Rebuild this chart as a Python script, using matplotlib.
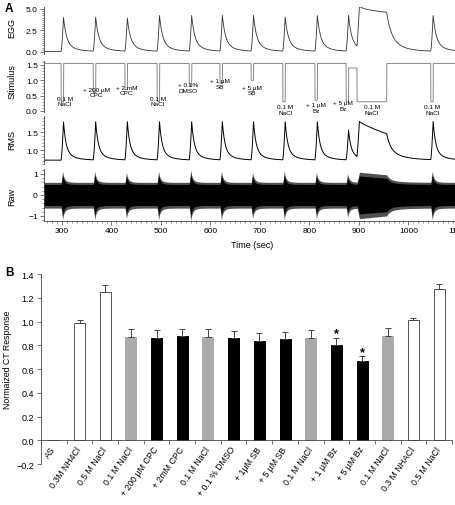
import numpy as np
import matplotlib.pyplot as plt
from matplotlib.ticker import MultipleLocator

plt.rcParams['font.family'] = ['Liberation Sans', 'DejaVu Sans']

# ---- Panel A: events (time in sec) ----
pulse_on = [298, 363, 427, 492, 557, 619, 682, 746, 811, 874, 1045]
stim_level = [0.3, 0.6, 0.7, 0.3, 0.8, 0.9, 1.0, 0.3, 0.35, 0.3, 0.3]
egg_peak = [4.0, 4.0, 3.9, 4.2, 4.2, 4.2, 4.2, 4.0, 4.2, 4.2, 4.2]
rms_peak = [1.78, 1.78, 1.78, 1.78, 1.78, 1.78, 1.78, 1.78, 1.78, 1.55, 1.78]
raw_peak = [0.95, 0.95, 0.9, 0.95, 1.0, 0.95, 0.9, 0.95, 0.9, 0.85, 0.95]

long_on, long_off = 896, 956      # long 0.1 M NaCl application
long_level = 0.3
gap_level = 1.4                   # stimulus level between +5 uM Bz and long NaCl
egg_long = [4.85, 4.6]            # EGG at start / end of long NaCl
rms_long = [1.72, 1.45]
raw_long = 0.9

stim_base = 1.55
egg_base = 0.05
rms_base = 0.72
raw_base = 0.5

stim_text = ['0.1 M\nNaCl', '+ 200 µM\nCPC', '+ 2 mM\nCPC', '0.1 M\nNaCl', '+ 0.1%\nDMSO',
             '+ 1 µM\nSB', '+ 5 µM\nSB', '0.1 M\nNaCl', '+ 1 µM\nBz', '+ 5 µM\nBz',
             '0.1 M\nNaCl', '0.1 M\nNaCl']
stim_text_t = [306, 369, 431, 494, 555, 619, 683, 751, 813, 868, 926, 1048]
stim_text_y = [0.50, 0.79, 0.85, 0.50, 0.93, 1.06, 0.85, 0.22, 0.28, 0.35, 0.22, 0.22]

# ---- Panel B: normalized chorda tympani responses ----
categories = ['AS', '0.3M NH4Cl', '0.5 M NaCl', '0.1 M NaCl', '+ 200 µM CPC', '+ 2mM CPC',
              '0.1 M NaCl', '+ 0.1 % DMSO', '+ 1µM SB', '+ 5 µM SB', '0.1 M NaCl',
              '+ 1 µM Bz', '+ 5 µM Bz', '0.1 M NaCl', '0.3 M NHACl', '0.5 M NaCl']
response = [0.005, 0.99, 1.25, 0.87, 0.86, 0.88, 0.87, 0.86, 0.84, 0.85, 0.86, 0.80, 0.67, 0.88, 1.01, 1.27]
sem = [0.0, 0.02, 0.06, 0.07, 0.065, 0.055, 0.065, 0.06, 0.06, 0.065, 0.065, 0.065, 0.04, 0.065, 0.02, 0.05]
kind = ['w', 'w', 'w', 'g', 'k', 'k', 'g', 'k', 'k', 'k', 'g', 'k', 'k', 'g', 'w', 'w']
starred = [11, 12]

fill = {'w': 'white', 'g': '#aaaaaa', 'k': 'black'}
edge = {'w': '#555555', 'g': '#aaaaaa', 'k': 'black'}


def response_shape(t, s, rise=5.0, tau1=6.0, tau2=20.0):
    r = t - s
    out = np.zeros_like(t)
    up = (r > 0) & (r < rise)
    out[up] = (r[up] / rise) ** 1.5
    dn = r >= rise
    out[dn] = 0.75 * np.exp(-(r[dn] - rise) / tau1) + 0.25 * np.exp(-(r[dn] - rise) / tau2)
    return out


def long_shape(t, on, off, start, end, rise=5.0, tau1=6.0, tau2=20.0):
    out = np.zeros_like(t)
    r = t - on
    up = (r > 0) & (r < rise)
    out[up] = start * (r[up] / rise) ** 1.2
    mid = (t >= on + rise) & (t < off)
    out[mid] = start + (end - start) * (t[mid] - on - rise) / (off - on - rise)
    dn = t >= off
    d = t[dn] - off
    out[dn] = end * (0.6 * np.exp(-d / tau1) + 0.4 * np.exp(-d / tau2))
    return out


t = np.arange(255, 1115, 0.2)

stim = np.full_like(t, stim_base)
for s, lv in zip(pulse_on, stim_level):
    stim[(t >= s) & (t < s + 5)] = lv
stim[(t >= pulse_on[9] + 5) & (t < long_on)] = gap_level
stim[(t >= long_on) & (t < long_off)] = long_level

egg = np.full_like(t, egg_base)
rms = np.full_like(t, rms_base)
raw = np.full_like(t, raw_base)
for s, e, r, w in zip(pulse_on, egg_peak, rms_peak, raw_peak):
    egg += (e - egg_base) * response_shape(t, s)
    rms += (r - rms_base) * response_shape(t, s, tau1=5.0, tau2=18.0)
    raw += (w - raw_base) * response_shape(t, s, rise=3.0, tau1=3.0, tau2=8.0)
egg += long_shape(t, long_on, long_off, egg_long[0] - egg_base, egg_long[1] - egg_base,
                  tau1=9.0, tau2=25.0)
rms += long_shape(t, long_on, long_off, rms_long[0] - rms_base, rms_long[1] - rms_base,
                  tau1=8.0, tau2=30.0)
raw += long_shape(t, long_on, long_off, raw_long - raw_base, raw_long - raw_base - 0.1,
                  tau1=6.0, tau2=25.0)

fig = plt.figure(figsize=(4.55, 5.06), dpi=100)

xl = (263.6, 1104)
axL, axW = 0.0967, 0.914
ax_egg = fig.add_axes([axL, 0.892, axW, 0.0917])
ax_stim = fig.add_axes([axL, 0.7757, axW, 0.1012])
ax_rms = fig.add_axes([axL, 0.673, axW, 0.096])
ax_raw = fig.add_axes([axL, 0.5608, axW, 0.1038])

for ax in (ax_egg, ax_stim, ax_rms, ax_raw):
    ax.set_xlim(*xl)
    ax.patch.set_alpha(0)
    for sp in ('top', 'right'):
        ax.spines[sp].set_visible(False)
    ax.spines['left'].set_linewidth(0.6)
    ax.spines['left'].set_color('#444444')
    ax.tick_params(axis='y', which='major', length=3, width=0.5, labelsize=6, pad=1.5, colors='#444444')
    ax.tick_params(axis='y', which='minor', length=1.5, width=0.4, colors='#444444')
    ax.tick_params(axis='y', labelcolor='black')
for ax in (ax_egg, ax_stim, ax_rms):
    ax.spines['bottom'].set_visible(False)
    ax.tick_params(axis='x', which='both', bottom=False, labelbottom=False)

ax_egg.plot(t, egg, color='#333333', lw=0.6)
ax_egg.set_ylim(-0.2, 5.2)
ax_egg.yaxis.set_major_locator(MultipleLocator(2.5))
ax_egg.yaxis.set_minor_locator(MultipleLocator(0.25))
ax_egg.yaxis.set_major_formatter('{x:.1f}')

ax_stim.plot(t, stim, color='#888888', lw=0.7)
ax_stim.set_ylim(-0.05, 1.62)
ax_stim.yaxis.set_major_locator(MultipleLocator(0.5))
ax_stim.yaxis.set_minor_locator(MultipleLocator(0.1))
ax_stim.yaxis.set_major_formatter('{x:.1f}')
for txt, tx, ty in zip(stim_text, stim_text_t, stim_text_y):
    ax_stim.text(tx, ty, txt, fontsize=4.6, ha='center', va='top', linespacing=1.15, clip_on=False)

ax_rms.plot(t, rms, color='black', lw=0.7)
ax_rms.set_ylim(0.6, 1.95)
ax_rms.yaxis.set_major_locator(MultipleLocator(0.5))
ax_rms.yaxis.set_minor_locator(MultipleLocator(0.1))
ax_rms.yaxis.set_major_formatter('{x:.1f}')

ax_raw.fill_between(t, -raw * 1.25, raw * 1.2, color='#505050', lw=0)
ax_raw.fill_between(t, -raw, raw, color='black', lw=0)
ax_raw.set_ylim(-1.25, 1.25)
ax_raw.yaxis.set_major_locator(MultipleLocator(1))
ax_raw.yaxis.set_minor_locator(MultipleLocator(0.2))
ax_raw.spines['bottom'].set_linewidth(0.6)
ax_raw.spines['bottom'].set_color('#444444')
ax_raw.xaxis.set_major_locator(MultipleLocator(100))
ax_raw.xaxis.set_minor_locator(MultipleLocator(10))
ax_raw.tick_params(axis='x', which='major', length=3, width=0.5, labelsize=6, pad=1.5, colors='#444444', labelcolor='black')
ax_raw.tick_params(axis='x', which='minor', length=1.5, width=0.4, colors='#444444')
ax_raw.set_xlabel('Time (sec)', fontsize=6.5, labelpad=4)

for name, yc in (('EGG', 28), ('Stimulus', 82), ('RMS', 140), ('Raw', 197)):
    fig.text(12 / 455, 1 - yc / 506, name, rotation=90, fontsize=6.5, ha='center', va='center')

fig.text(5 / 455, 1 - 9 / 506, 'A', fontsize=8.5, fontweight='bold', va='center')
fig.text(5 / 455, 1 - 273 / 506, 'B', fontsize=8.5, fontweight='bold', va='center')

# ---- Panel B ----
axb = fig.add_axes([0.0901, 0.081, 0.9033, 0.3755])
x = np.arange(len(categories))
axb.bar(x, response, width=0.43, color=[fill[k] for k in kind],
        edgecolor=[edge[k] for k in kind], linewidth=0.7, zorder=2)
axb.errorbar(x, response, yerr=[np.zeros(len(sem)), sem], fmt='none', ecolor='#444444',
             elinewidth=0.7, capsize=2.2, capthick=0.7, zorder=3)
for i in starred:
    axb.text(x[i], response[i] + sem[i] + 0.035, '*', ha='center', va='center', fontsize=9, fontweight='bold')
axb.set_xlim(-0.5, len(categories) - 0.5)
axb.set_ylim(-0.2, 1.4)
axb.yaxis.set_major_locator(MultipleLocator(0.2))
axb.yaxis.set_major_formatter('{x:.1f}')
axb.spines['top'].set_visible(False)
axb.spines['right'].set_visible(False)
axb.spines['bottom'].set_position(('data', 0))
for sp in ('left', 'bottom'):
    axb.spines[sp].set_linewidth(0.6)
    axb.spines[sp].set_color('#444444')
axb.set_xticks(x)
axb.set_xticks(np.arange(len(categories) + 1) - 0.5, minor=True)
axb.set_xticklabels(categories, rotation=55, ha='right', va='center', rotation_mode='anchor', fontsize=6.3)
axb.tick_params(axis='x', which='major', length=0, pad=5)
axb.tick_params(axis='x', which='minor', length=3, width=0.5, colors='#444444')
axb.tick_params(axis='y', length=3, width=0.5, labelsize=6.5, colors='#444444', labelcolor='black', pad=2)
fig.text(8 / 455, 1 - 360 / 506, 'Normaized CT Response', rotation=90, fontsize=6.3, ha='center', va='center')

fig.savefig('out.png', dpi=100)
